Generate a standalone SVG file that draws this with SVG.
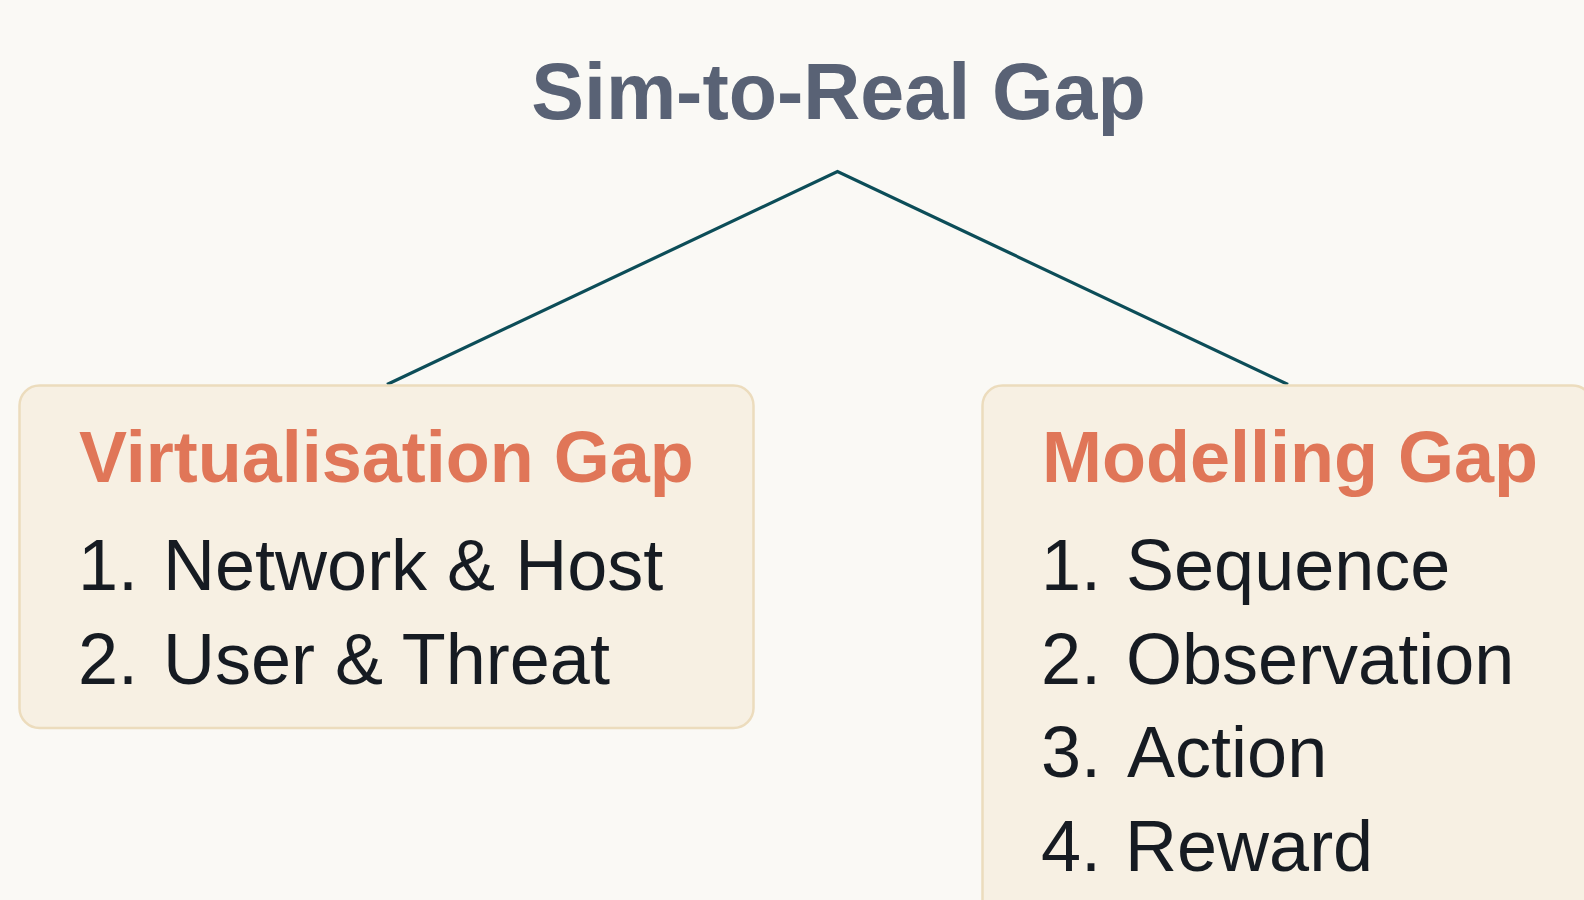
<svg xmlns="http://www.w3.org/2000/svg" width="1584" height="900" viewBox="0 0 1584 900">
<style>
.bg{fill:#faf9f5}
.box{fill:#f7f0e3;stroke:#ecdcbd;stroke-width:2.5}
.title{font-family:"Liberation Sans",Arial,sans-serif;font-weight:bold;font-size:79px;fill:#596275}
.head{font-family:"Liberation Sans",Arial,sans-serif;font-weight:bold;font-size:72px;fill:#e07658}
.item{font-family:"Liberation Sans",Arial,sans-serif;font-size:72px;fill:#161b22}
.conn{fill:none;stroke:#0c4d58;stroke-width:3.2}
</style>
<rect class="bg" x="0" y="0" width="1584" height="900"/>
<g id="title">
<text class="title" x="838.5" y="119" text-anchor="middle">Sim-to-Real Gap</text>
</g>
<g id="connectors">
<polyline class="conn" points="387,384.5 837.5,171.5 1288,384.5"/>
</g>
<g id="virtualisation">
<rect class="box" x="19.5" y="385.5" width="734" height="342.5" rx="20"/>
<text class="head" x="79" y="482">Virtualisation Gap</text>
<text class="item" x="78" y="590">1.<tspan dx="5"> Network &amp; Host</tspan></text>
<text class="item" x="78" y="683.5">2.<tspan dx="5"> User &amp; Threat</tspan></text>
</g>
<g id="modelling">
<rect class="box" x="982.5" y="385.5" width="610" height="560" rx="20"/>
<text class="head" x="1042" y="482">Modelling Gap</text>
<text class="item" x="1041" y="590">1.<tspan dx="5"> Sequence</tspan></text>
<text class="item" x="1041" y="683.5">2.<tspan dx="5"> Observation</tspan></text>
<text class="item" x="1041" y="777">3.<tspan dx="10"> Action</tspan></text>
<text class="item" x="1041" y="870.5">4.<tspan dx="4"> Reward</tspan></text>
</g>
</svg>
